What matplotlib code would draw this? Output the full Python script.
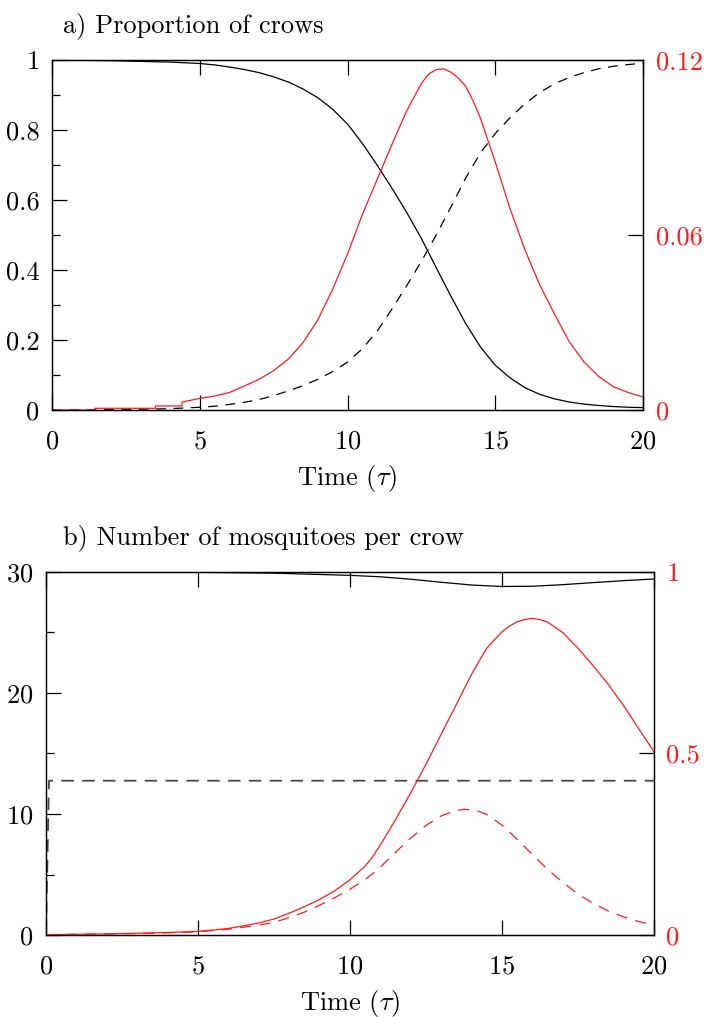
import matplotlib
matplotlib.use("Agg")
import matplotlib.pyplot as plt
from matplotlib.ticker import MultipleLocator

# fonts: computer modern look
plt.rcParams['font.family'] = 'cmr10'
plt.rcParams['mathtext.fontset'] = 'cm'
plt.rcParams['axes.formatter.use_mathtext'] = True
plt.rcParams['font.size'] = 19
plt.rcParams['lines.scale_dashes'] = False

# ---- panel a data: proportion of crows ----
t_a = [0, 1, 2, 3, 4, 5, 5.5, 6, 6.5, 7, 7.5, 8, 8.5, 9, 9.5, 10, 10.5, 11, 11.5, 12,
       12.5, 13, 13.5, 14, 14.5, 15, 15.5, 16, 16.5, 17, 17.5, 18, 18.5, 19, 19.5, 20]
susceptible = [1.0, 0.999, 0.998, 0.996, 0.994, 0.99, 0.986, 0.98, 0.973, 0.964, 0.952,
               0.937, 0.917, 0.892, 0.859, 0.817, 0.762, 0.7, 0.634, 0.565, 0.49, 0.407,
               0.325, 0.247, 0.18, 0.128, 0.092, 0.064, 0.045, 0.032, 0.023, 0.017, 0.013,
               0.010, 0.008, 0.007]
dead = [0.0, 0.0003, 0.001, 0.002, 0.004, 0.008, 0.011, 0.016, 0.022, 0.03, 0.041, 0.055,
        0.07, 0.088, 0.11, 0.137, 0.175, 0.225, 0.288, 0.355, 0.425, 0.5, 0.58, 0.663, 0.735,
        0.79, 0.835, 0.875, 0.907, 0.932, 0.95, 0.964, 0.975, 0.982, 0.987, 0.991]

# infected crows (right axis), stepped at the start
t_inf = [0, 1.45, 1.45, 3.5, 3.5, 4.4, 4.4, 5, 5.5, 6, 6.5, 7, 7.5, 8, 8.5, 9, 9.5, 10,
         10.5, 11, 11.5, 12, 12.5, 12.75, 13, 13.25, 13.5, 13.75, 14, 14.25, 14.5, 15,
         15.5, 16, 16.5, 17, 17.5, 18, 18.5, 19, 19.5, 20]
infected = [0, 0, 0.0006, 0.0006, 0.0014, 0.0014, 0.0027, 0.004, 0.0048, 0.006, 0.0082,
            0.0105, 0.0135, 0.0175, 0.0232, 0.031, 0.0415, 0.0535, 0.067, 0.079, 0.091,
            0.1025, 0.112, 0.1152, 0.1167, 0.117, 0.1158, 0.1138, 0.111, 0.106, 0.1,
            0.085, 0.069, 0.055, 0.043, 0.033, 0.0235, 0.0165, 0.0115, 0.008, 0.006,
            0.0045]

# ---- panel b data: mosquitoes per crow ----
t_b = [0, 1, 2, 3, 4, 5, 6, 7, 7.5, 8, 8.5, 9, 9.5, 10, 10.5, 10.75, 11, 11.5, 12, 12.5,
       13, 13.5, 13.75, 14, 14.25, 14.5, 15, 15.25, 15.5, 15.75, 16, 16.25, 16.5, 17,
       17.5, 18, 18.5, 19, 19.5, 20]
mosq_inf = [0.001, 0.002, 0.003, 0.005, 0.007, 0.01, 0.018, 0.033, 0.044, 0.06, 0.078,
            0.098, 0.122, 0.152, 0.19, 0.216, 0.248, 0.318, 0.392, 0.47, 0.553, 0.635,
            0.677, 0.718, 0.755, 0.79, 0.835, 0.851, 0.863, 0.869, 0.872, 0.869, 0.862,
            0.833, 0.79, 0.742, 0.69, 0.632, 0.568, 0.505]
mosq_inf_dash = [0.001, 0.002, 0.003, 0.004, 0.006, 0.009, 0.016, 0.027, 0.035, 0.048,
                 0.063, 0.082, 0.103, 0.126, 0.153, 0.169, 0.187, 0.228, 0.267, 0.302,
                 0.328, 0.343, 0.346, 0.345, 0.34, 0.332, 0.303, 0.284, 0.263, 0.243,
                 0.222, 0.201, 0.181, 0.145, 0.113, 0.087, 0.066, 0.05, 0.037, 0.0275]

t_total = [0, 2.5, 5, 7.5, 10, 11, 12, 13, 14, 15, 16, 17, 18, 19, 20]
mosq_total = [30, 29.99, 29.97, 29.9, 29.72, 29.6, 29.4, 29.15, 28.92, 28.8, 28.82, 28.95,
              29.12, 29.28, 29.42]
t_level = [0, 0.1, 20]
mosq_level = [0, 12.75, 12.75]

a_left_ticks = [0, 0.2, 0.4, 0.6, 0.8, 1]
a_left_labels = ['0', '0.2', '0.4', '0.6', '0.8', '1']
a_right_ticks = [0, 0.06, 0.12]
a_right_labels = ['0', '0.06', '0.12']
b_left_ticks = [0, 10, 20, 30]
b_right_ticks = [0, 0.5, 1]
b_right_labels = ['0', '0.5', '1']
x_ticks = [0, 5, 10, 15, 20]

LW = 0.9
RED = '#ff1a1a'

fig = plt.figure(figsize=(7.05, 10.17), dpi=100)


def style_axes(ax, twin):
    for sp in ax.spines.values():
        sp.set_linewidth(LW)
    for sp in twin.spines.values():
        sp.set_linewidth(LW)
    ax.tick_params(which='both', direction='in', top=True, right=False, width=LW, pad=14)
    ax.tick_params(axis='y', pad=9)
    ax.tick_params(which='major', length=11)
    ax.tick_params(which='minor', length=5.5)
    twin.tick_params(axis='y', direction='in', length=11, width=LW, pad=9,
                     labelcolor=RED, color='black')
    ax.set_xlim(0, 20)
    ax.set_xticks(x_ticks)
    ax.set_xlabel(r'Time ($\tau$)', labelpad=7)


# panel a
ax1 = fig.add_axes([0.0738, 0.5968, 0.8383, 0.3442])
ax1r = ax1.twinx()
ax1.plot(t_a, susceptible, color='black', lw=LW)
ax1.plot(t_a, dead, color='black', lw=LW, dashes=(7, 5.5))
ax1r.plot(t_inf, infected, color=RED, lw=LW)
ax1.set_ylim(0, 1)
ax1.set_yticks(a_left_ticks)
ax1.set_yticklabels(a_left_labels)
ax1.yaxis.set_minor_locator(MultipleLocator(0.1))
ax1r.set_ylim(0, 0.12)
ax1r.set_yticks(a_right_ticks)
ax1r.set_yticklabels(a_right_labels)
style_axes(ax1, ax1r)
fig.text(0.0894, 0.9685, 'a) Proportion of crows', va='baseline', ha='left')

# panel b
ax2 = fig.add_axes([0.0652, 0.0806, 0.8624, 0.3570])
ax2r = ax2.twinx()
ax2.plot(t_total, mosq_total, color='black', lw=LW)
ax2.plot(t_level, mosq_level, color='#4a4a4a', lw=1.3, dashes=(9, 6))
ax2r.plot(t_b, mosq_inf, color=RED, lw=LW)
ax2r.plot(t_b, mosq_inf_dash, color=RED, lw=LW, dashes=(8, 6))
ax2.set_ylim(0, 30)
ax2.set_yticks(b_left_ticks)
ax2.yaxis.set_minor_locator(MultipleLocator(5))
ax2r.set_ylim(0, 1)
ax2r.set_yticks(b_right_ticks)
ax2r.set_yticklabels(b_right_labels)
style_axes(ax2, ax2r)
fig.text(0.0894, 0.465, 'b) Number of mosquitoes per crow', va='baseline', ha='left')

plt.savefig('out.png', dpi=100)
